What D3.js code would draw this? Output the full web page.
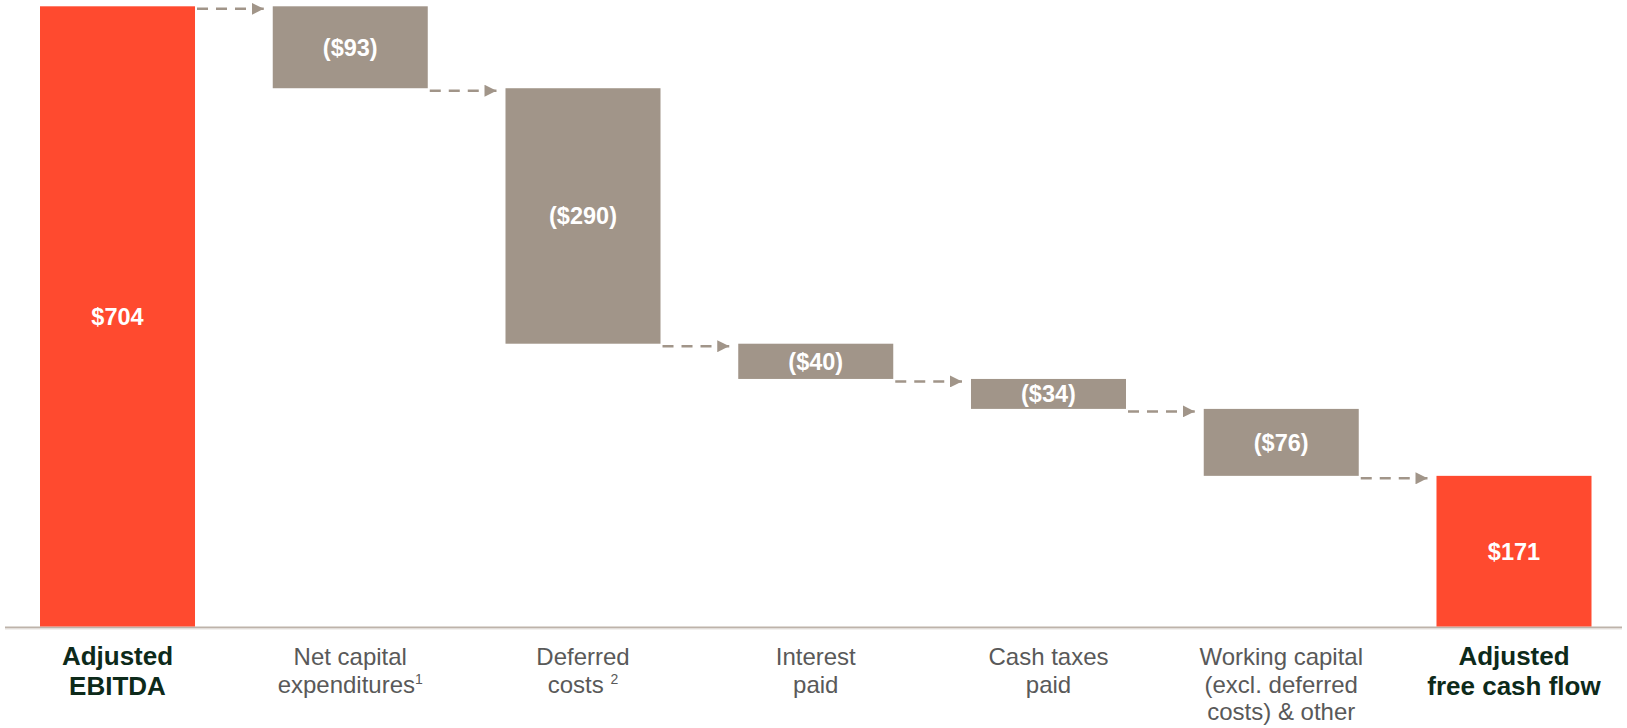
<!DOCTYPE html>
<html>
<head>
<meta charset="utf-8">
<script src="https://cdn.jsdelivr.net/npm/d3@7"></script>
<style>
  html, body { margin: 0; padding: 0; background: #fff; }
  svg { display: block; font-family: "Liberation Sans", Arial, sans-serif; }
</style>
</head>
<body>
<svg id="chart" width="1627" height="728"></svg>
<script>
// Bridge from Adjusted EBITDA to Adjusted free cash flow ($ millions)
const categories = ["ebitda", "capex", "deferred", "interest", "taxes", "wc", "fcf"];
const values = [704, -93, -290, -40, -34, -76, 171];
const kinds = ["total", "delta", "delta", "delta", "delta", "delta", "total"];
const valueLabels = ["$704", "($93)", "($290)", "($40)", "($34)", "($76)", "$171"];
const tickLines = [
  ["Adjusted", "EBITDA"],
  ["Net capital", "expenditures"],
  ["Deferred", "costs "],
  ["Interest", "paid"],
  ["Cash taxes", "paid"],
  ["Working capital", "(excl. deferred", "costs) & other"],
  ["Adjusted", "free cash flow"]
];
const footnotes = ["", "1", "2", "", "", "", ""];

const RED = "#FF4A2F";
const TAUPE = "#A19589";
const BOLD_TEXT = "#0D2A1A";
const GRAY_TEXT = "#595959";

const svg = d3.select("#chart");
const baseY = 626.5;

const x = d3.scaleBand()
  .domain(categories)
  .range([40, 1591.5])
  .paddingInner(0.334)
  .paddingOuter(0);

const y = d3.scaleLinear()
  .domain([0, 704])
  .range([baseY, 6.3]);

// running level for the waterfall
let level = 0;
const bars = categories.map((c, i) => {
  let lo, hi;
  if (kinds[i] === "total") {
    lo = 0; hi = values[i]; level = values[i];
  } else {
    const next = level + values[i];
    lo = Math.min(level, next); hi = Math.max(level, next);
    level = next;
  }
  return { key: c, lo, hi, end: level, kind: kinds[i], label: valueLabels[i] };
});

// baseline
svg.append("line")
  .attr("x1", 5).attr("x2", 1622)
  .attr("y1", baseY + 1).attr("y2", baseY + 1)
  .attr("stroke", "#BDB3AA")
  .attr("stroke-width", 2);
svg.append("line")
  .attr("x1", 5).attr("x2", 1622)
  .attr("y1", baseY + 2.5).attr("y2", baseY + 2.5)
  .attr("stroke", "#E6E2DE")
  .attr("stroke-width", 1.2);

// bars
svg.append("g").selectAll("rect")
  .data(bars)
  .join("rect")
  .attr("x", d => x(d.key))
  .attr("width", x.bandwidth())
  .attr("y", d => y(d.hi))
  .attr("height", d => y(d.lo) - y(d.hi))
  .attr("fill", d => d.kind === "total" ? RED : TAUPE);

// value labels
svg.append("g").selectAll("text")
  .data(bars)
  .join("text")
  .attr("x", d => x(d.key) + x.bandwidth() / 2)
  .attr("y", d => (y(d.lo) + y(d.hi)) / 2)
  .attr("dy", "0.36em")
  .attr("text-anchor", "middle")
  .attr("fill", "#fff")
  .attr("font-weight", "bold")
  .attr("font-size", 23.5)
  .text(d => d.label);

// dashed connector arrows
const defs = svg.append("defs");
defs.append("marker")
  .attr("id", "arrowhead")
  .attr("viewBox", "0 0 12 12")
  .attr("refX", 12).attr("refY", 6)
  .attr("markerWidth", 12).attr("markerHeight", 12)
  .attr("markerUnits", "userSpaceOnUse")
  .attr("orient", "auto")
  .append("path")
  .attr("d", "M0,0 L12,6 L0,12 Z")
  .attr("fill", TAUPE);

const links = bars.slice(0, -1).map((d, i) => ({ from: d, to: bars[i + 1] }));
svg.append("g").selectAll("line")
  .data(links)
  .join("line")
  .attr("x1", d => x(d.from.key) + x.bandwidth() + 2)
  .attr("x2", d => x(d.to.key) - 9)
  .attr("y1", d => y(d.from.end) + 2.5)
  .attr("y2", d => y(d.from.end) + 2.5)
  .attr("stroke", TAUPE)
  .attr("stroke-width", 2.5)
  .attr("stroke-dasharray", "11 8")
  .attr("marker-end", "url(#arrowhead)");

// category labels
const labelG = svg.append("g").selectAll("text")
  .data(categories.map((c, i) => ({ key: c, lines: tickLines[i], note: footnotes[i], kind: kinds[i] })))
  .join("text")
  .attr("text-anchor", "middle")
  .attr("fill", d => d.kind === "total" ? BOLD_TEXT : GRAY_TEXT)
  .attr("font-weight", d => d.kind === "total" ? "bold" : "normal")
  .attr("font-size", d => d.kind === "total" ? 26 : 24);

labelG.each(function(d) {
  const t = d3.select(this);
  const cx = x(d.key) + x.bandwidth() / 2;
  const lh = d.kind === "total" ? 30 : 27.5;
  d.lines.forEach((line, j) => {
    t.append("tspan")
      .attr("x", cx)
      .attr("y", 665 + j * lh)
      .text(line);
    if (j === d.lines.length - 1 && d.note) {
      t.append("tspan")
        .attr("font-size", 14)
        .attr("dy", -9)
        .text(d.note);
    }
  });
});
</script>
</body>
</html>
